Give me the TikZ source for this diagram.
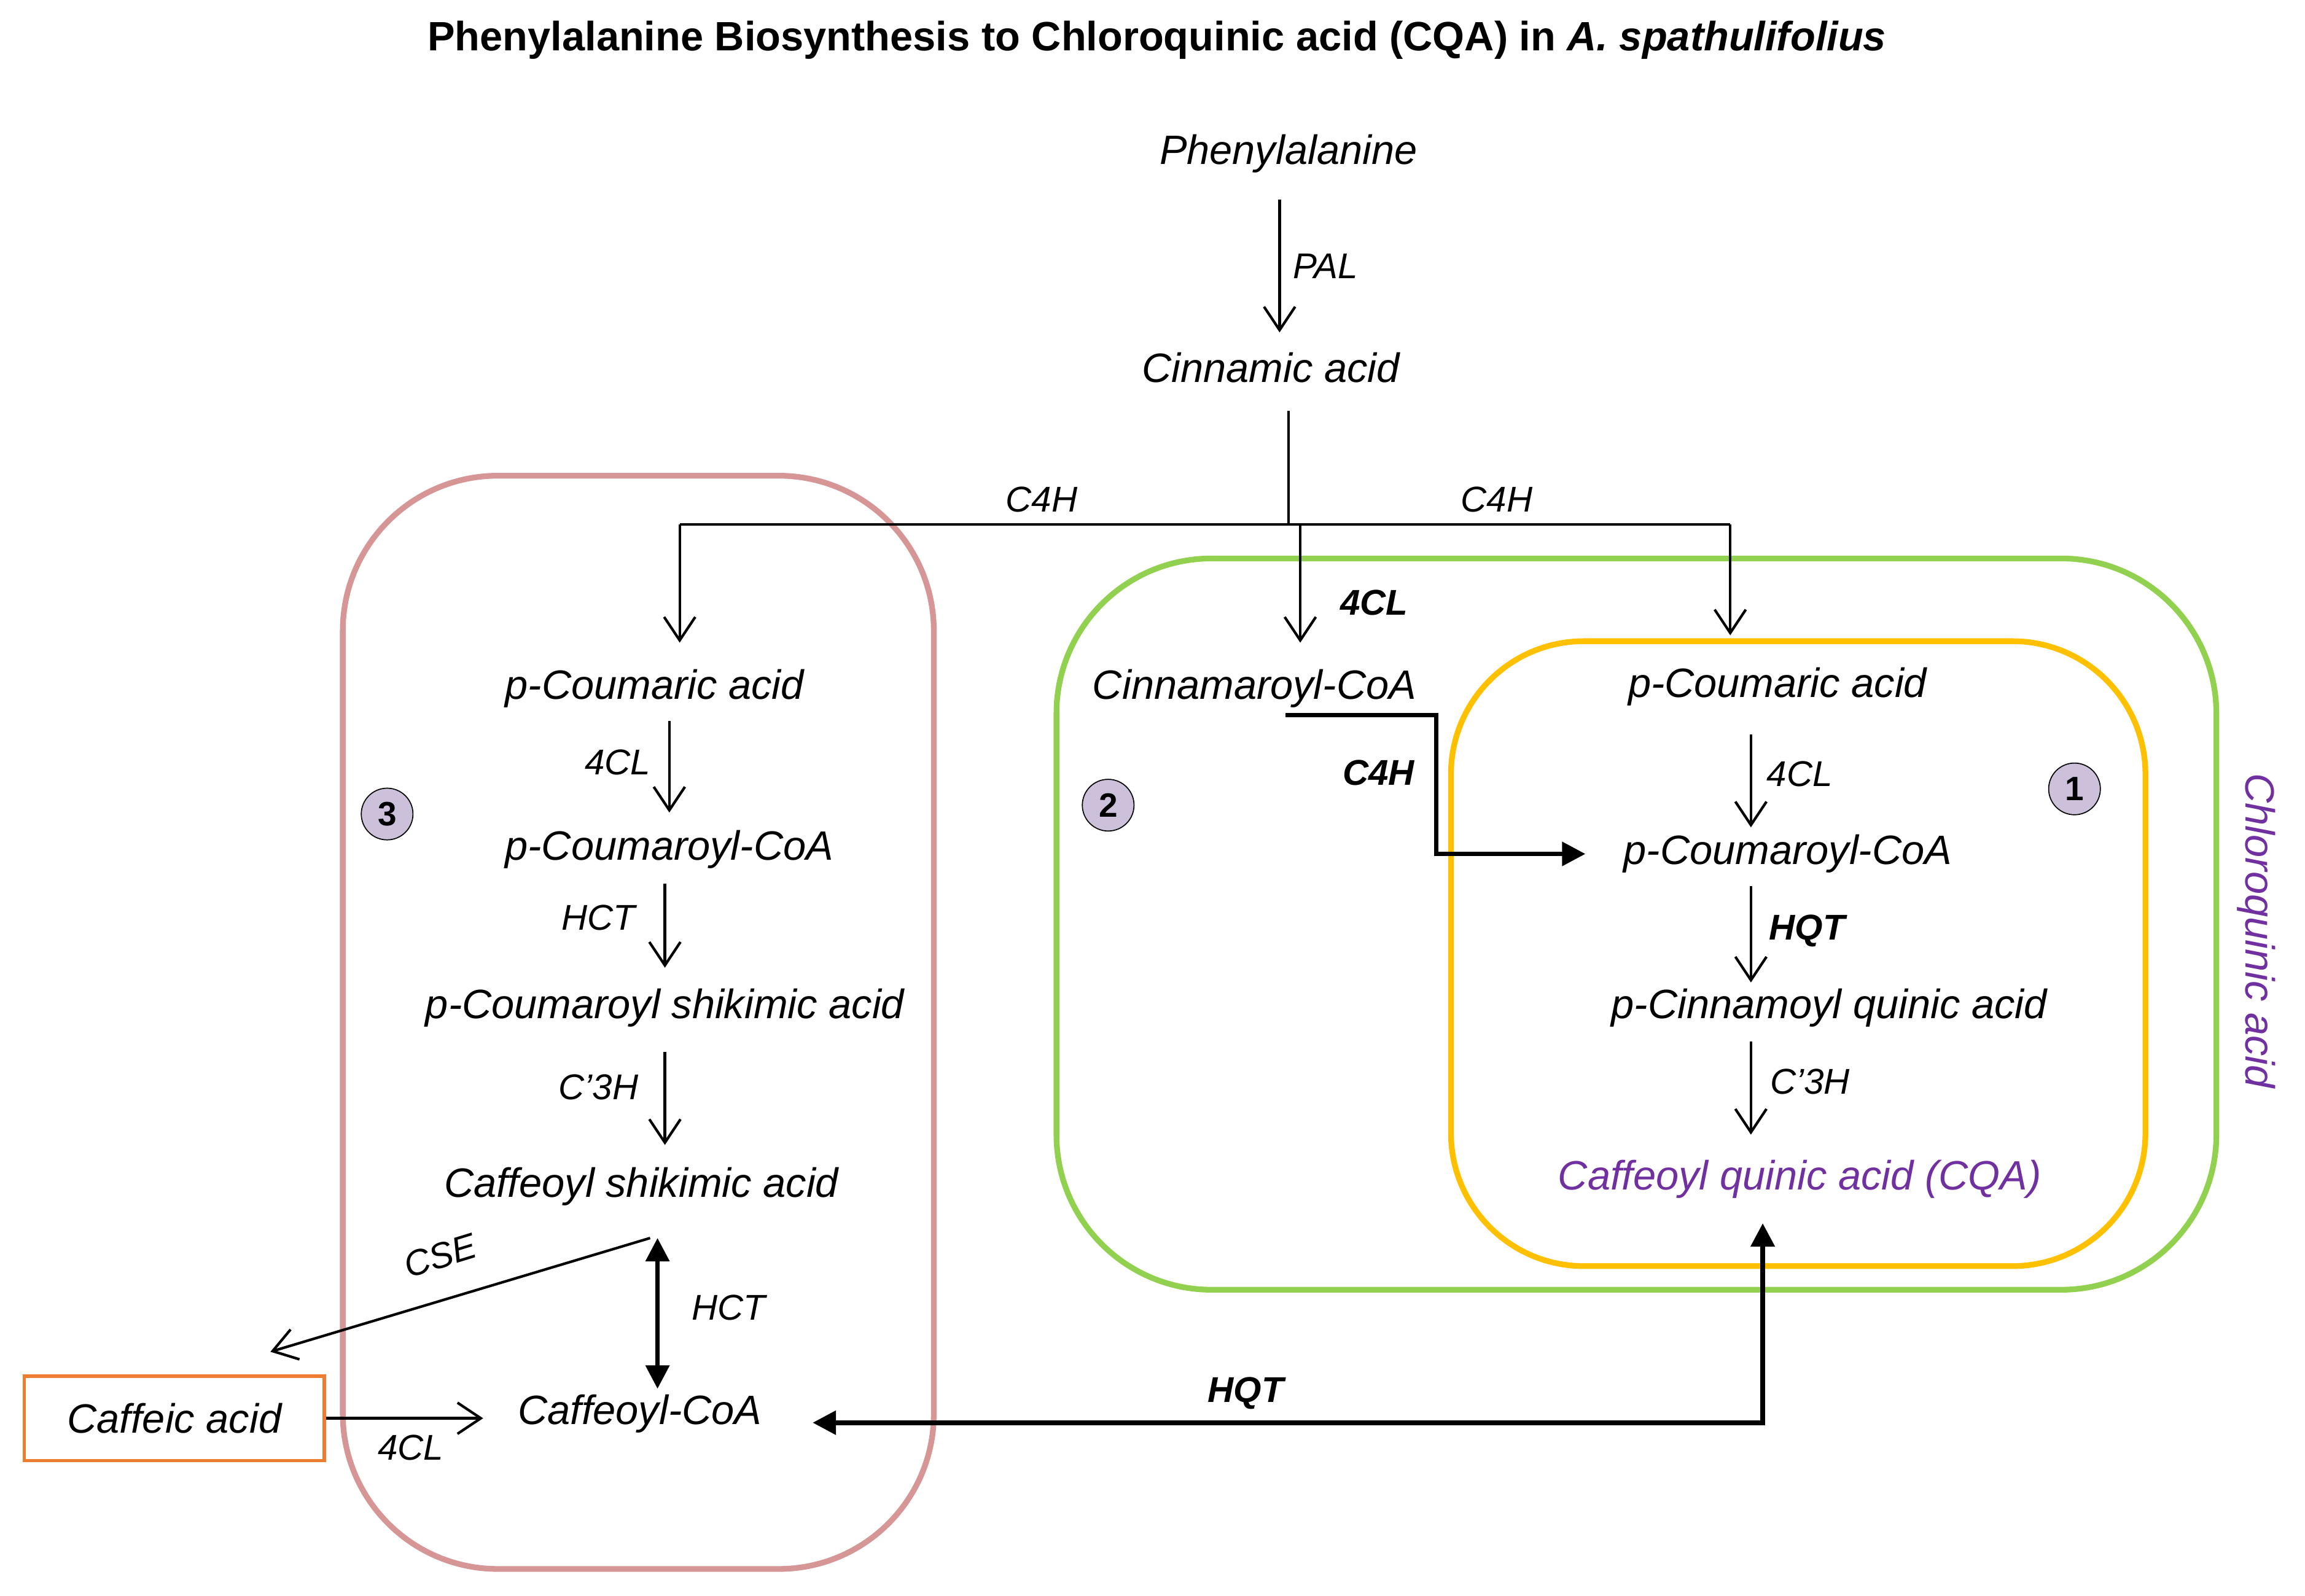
\documentclass[tikz,border=0pt]{standalone}
\usepackage{fontspec}
\setmainfont{Liberation Sans}
\usetikzlibrary{arrows.meta}
\definecolor{pinkb}{RGB}{214,150,150}
\definecolor{greenb}{RGB}{146,208,80}
\definecolor{yellb}{RGB}{255,192,0}
\definecolor{orangeb}{RGB}{237,125,49}
\definecolor{purp}{RGB}{112,48,160}
\definecolor{lav}{RGB}{204,192,218}
\begin{document}
\begin{tikzpicture}[x=0.02cm,y=-0.02cm,
  met/.style={font=\fontsize{15.8}{18}\selectfont\itshape, inner sep=1pt},
  enz/.style={font=\fontsize{13.8}{15}\selectfont\itshape, inner sep=1pt},
  benz/.style={font=\fontsize{13.8}{15}\selectfont\bfseries\itshape, inner sep=1pt},
  ar/.style={-{Straight Barb[length=9pt,width=12pt]}, line width=1pt},
  thick2/.style={line width=1.8pt},
  box/.style={rounded corners=2.1cm, line width=2.2pt},
  num/.style={circle, draw=black, fill=lav, inner sep=1.5pt, minimum size=0.7cm, font=\fontsize{13}{14}\selectfont\bfseries}]
\useasboundingbox (0,0) rectangle (1560,1080);
\node[font=\fontsize{15.8}{18}\selectfont\bfseries] (title) at (783,27) {Phenylalanine Biosynthesis to Chloroquinic acid (CQA) in \textit{A. spathulifolius}};
% boxes
\draw[box, pinkb] (232,322) rectangle (632,1062);
\draw[box, greenb] (715,378) rectangle (1500,873);
\draw[box, yellb, rounded corners=1.8cm] (982,434) rectangle (1452,857);
% top
\node[met] (phe) at (872,104) {Phenylalanine};
\node[met] (cin) at (860,249) {Cinnamic acid};
\draw[ar] (866,135) -- (866,225);
\node[enz] (pal) at (897,180) {PAL};
\coordinate (j) at (872,355);
\draw[line width=1pt] (872,278) -- (j);
\draw[line width=1pt] (862,355) -- (1171,355);
\draw[ar] (460,355) -- (460,435);
\draw[line width=1pt] (460,355) -- (862,355);
\draw[ar] (1171,355) -- (1171,430);
\draw[ar] (880,355) -- (880,435);
\node[enz] (c4ha) at (705,338) {C4H};
\node[enz] (c4hb) at (1013,338) {C4H};
\node[benz] (cl4) at (930,408) {4CL};
% left column
\node[met] (lpc) at (443,466) {p-Coumaric acid};
\node[met] (lpcc) at (453,575) {p-Coumaroyl-CoA};
\node[met] (lpcs) at (450,682) {p-Coumaroyl shikimic acid};
\node[met] (lcs) at (434,803) {Caffeoyl shikimic acid};
\node[met] (lcc) at (433,957) {Caffeoyl-CoA};
\draw[ar] (453,488) -- (453,550); \node[enz] at (418,516) {4CL};
\draw[ar] (450,598) -- (450,655); \node[enz] at (405,621) {HCT};
\draw[ar] (450,712) -- (450,775); \node[enz] at (405,736) {C'3H};
\draw[line width=1.6pt, {Triangle[length=9pt,width=9pt]}-{Triangle[length=9pt,width=9pt]}] (445,838) -- (445,940); \node[enz] at (493,885) {HCT};
\draw[ar] (440,838) -- (183,915);
\node[enz, rotate=17] at (298,850) {CSE};
\node[met, draw=orangeb, line width=1.2pt, minimum width=4.06cm, minimum height=1.14cm] (caf) at (118,960) {Caffeic acid};
\draw[ar] (caf.east) -- (327,960);
\node[enz] at (278,980) {4CL};
\node[num] (n3) at (262,551) {3};
% middle
\node[met] (cnc) at (849,466) {Cinnamaroyl-CoA};
\draw[thick2, -{Triangle[length=9pt,width=9pt]}] (870,484) -- (972,484) -- (972,578) -- (1073,578);
\node[benz] at (933,523) {C4H};
\node[num] (n2) at (750,545) {2};
% right
\node[met] (rpc) at (1203,465) {p-Coumaric acid};
\node[met] (rpcc) at (1210,578) {p-Coumaroyl-CoA};
\node[met] (rpq) at (1238,682) {p-Cinnamoyl quinic acid};
\node[met, text=purp] (cqa) at (1218,798) {Caffeoyl quinic acid (CQA)};
\draw[ar] (1185,497) -- (1185,560); \node[enz] at (1218,524) {4CL};
\draw[ar] (1185,600) -- (1185,665); \node[benz] at (1223,630) {HQT};
\draw[ar] (1185,705) -- (1185,768); \node[enz] at (1225,732) {C'3H};
\node[num] (n1) at (1404,534) {1};
\node[met, text=purp, rotate=-90] at (1527,630) {Chloroquinic acid};
% HQT
\draw[thick2, {Triangle[length=9pt,width=9pt]}-{Triangle[length=9pt,width=9pt]}] (550,963) -- (1193,963) -- (1193,828);
\node[benz] at (843,943) {HQT};
\end{tikzpicture}
\end{document}
